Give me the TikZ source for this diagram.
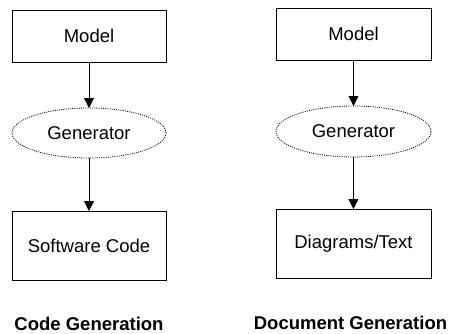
\documentclass[tikz,border=0pt]{standalone}
\usepackage{fontspec}
\setmainfont{Liberation Sans}
\usetikzlibrary{shapes.geometric,arrows.meta}
\begin{document}
\begin{tikzpicture}[x=1pt,y=1pt,
  every node/.style={font=\fontsize{18.5}{22}\selectfont, inner sep=0pt, outer sep=0pt},
  block/.style={draw, line width=0.9pt, minimum width=154pt},
  gen/.style={ellipse, draw, line width=0.8pt, dash pattern=on 1pt off 1.2pt, minimum width=154pt, minimum height=50pt},
  flow/.style={draw, line width=0.9pt, -{Triangle[length=10pt,width=10pt]}},
  caption/.style={font=\fontsize{18.5}{22}\selectfont\bfseries, anchor=base}]
\useasboundingbox (0,0) rectangle (450,333);

% Code generation column
\node[block, minimum height=52pt] (m1) at (89,297) {Model};
\node[gen] (g1) at (89,200) {Generator};
\node[block, minimum height=69pt] (c1) at (89,87.5) {Software Code};
\node[caption] (l1) at (89,3) {Code Generation};
\draw[flow] (m1) -- (g1);
\draw[flow] (g1) -- (c1);

% Document generation column
\node[block, minimum height=52pt, minimum width=155pt] (m2) at (353.5,299) {Model};
\node[gen, minimum width=155pt, minimum height=51pt] (g2) at (353.5,201.5) {Generator};
\node[block, minimum height=69pt, minimum width=155pt] (c2) at (353.5,89.5) {Diagrams/Text};
\node[caption] (l2) at (350.5,4) {Document Generation};
\draw[flow] (m2) -- (g2);
\draw[flow] (g2) -- (c2);
\end{tikzpicture}
\end{document}
